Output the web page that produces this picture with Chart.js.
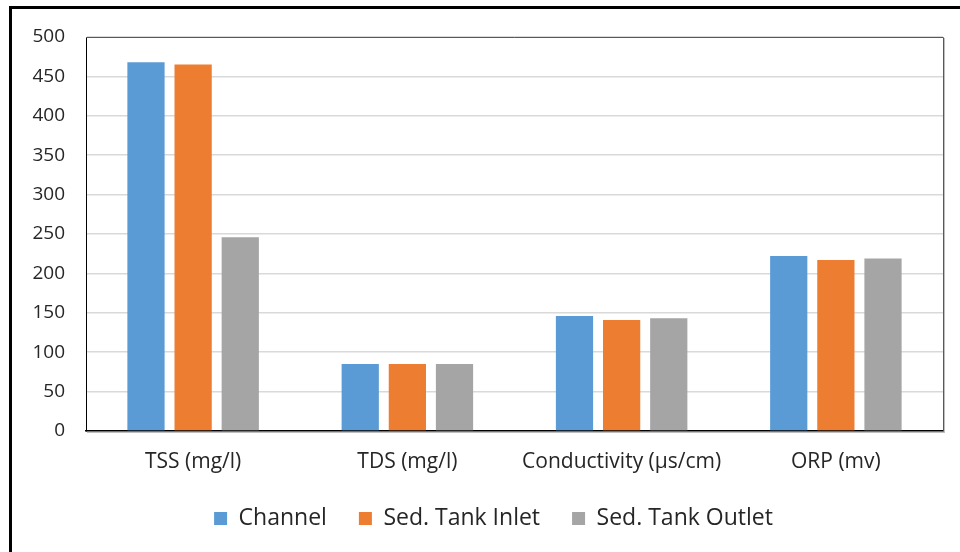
<!DOCTYPE html>
<html>
<head>
<meta charset="utf-8">
<script src="https://cdn.jsdelivr.net/npm/chart.js@4"></script>
<style>
  html, body { margin: 0; padding: 0; background: #fff; overflow: hidden; }
  #wrap { position: relative; width: 960px; height: 552px; }
  #frame { position: absolute; left: 9px; top: 6px; width: 1000px; height: 600px;
           border: 3px solid #000; box-sizing: border-box; pointer-events: none; }
  canvas { position: absolute; left: 0; top: 0; }
</style>
</head>
<body>
<div id="wrap">
  <canvas id="chart" width="960" height="552"></canvas>
  <div id="frame"></div>
</div>
<script>
// Water quality parameters by sampling point
const categories = ['TSS (mg/l)', 'TDS (mg/l)', 'Conductivity (\u00b5s/cm)', 'ORP (mv)'];
const channel = [468, 85, 146, 222];
const sedTankInlet = [465, 85, 141, 217];
const sedTankOutlet = [246, 85, 143, 219];
const yTicks = [0, 50, 100, 150, 200, 250, 300, 350, 400, 450, 500];

const FONT = '"Open Sans", Lato, sans-serif';
const TEXT = '#262626';

// Grey frame round the plot area (top and right edges; the axes draw left and bottom)
const plotFrame = {
  id: 'plotFrame',
  afterDatasetsDraw(chart) {
    const { ctx, chartArea: a } = chart;
    ctx.save();
    ctx.strokeStyle = '#595959';
    ctx.lineWidth = 1;
    ctx.beginPath();
    ctx.moveTo(a.left, a.top + 0.5);
    ctx.lineTo(a.right + 0.5, a.top + 0.5);
    ctx.lineTo(a.right + 0.5, a.bottom);
    ctx.stroke();
    ctx.strokeStyle = 'rgba(0,0,0,0.25)';
    ctx.beginPath();
    ctx.moveTo(a.right + 1.5, a.top + 1);
    ctx.lineTo(a.right + 1.5, a.bottom + 1.5);
    ctx.lineTo(a.left + 1, a.bottom + 1.5);
    ctx.stroke();
    ctx.restore();
  }
};

// Centre the legend row under the span from the value labels to the plot's right edge
const legendShift = {
  id: 'legendShift',
  afterLayout(chart) {
    if (chart.legend) chart.legend.left += 44;
  }
};

new Chart(document.getElementById('chart'), {
  type: 'bar',
  data: {
    labels: categories,
    datasets: [
      { label: 'Channel', data: channel, backgroundColor: '#5B9BD5' },
      { label: 'Sed. Tank Inlet', data: sedTankInlet, backgroundColor: '#ED7D31' },
      { label: 'Sed. Tank Outlet', data: sedTankOutlet, backgroundColor: '#A5A5A5' }
    ]
  },
  options: {
    responsive: false,
    animation: false,
    devicePixelRatio: 1,
    layout: { padding: { top: 37, right: 17, bottom: 12, left: 0 } },
    datasets: { bar: { categoryPercentage: 0.66, barPercentage: 0.79 } },
    scales: {
      x: {
        grid: { display: false, drawTicks: false },
        border: { display: true, color: '#000', width: 1.5 },
        ticks: { color: TEXT, font: { family: FONT, size: 21 }, padding: 18, maxRotation: 0 },
        afterFit(s) { s.height = 44; }
      },
      y: {
        min: 0, max: 500,
        afterBuildTicks(s) { s.ticks = yTicks.map(v => ({ value: v })); },
        grid: { color: '#D9D9D9', lineWidth: 1.5, drawTicks: false },
        border: { display: true, color: '#000', width: 1 },
        ticks: { color: TEXT, font: { family: FONT, size: 19 }, padding: 21 },
        afterFit(s) { s.width = 86; }
      }
    },
    plugins: {
      legend: {
        position: 'bottom',
        labels: {
          color: TEXT,
          font: { family: FONT, size: 23 },
          boxWidth: 13, boxHeight: 13,
          padding: 32
        }
      },
      tooltip: { enabled: false }
    }
  },
  plugins: [plotFrame, legendShift]
});
</script>
</body>
</html>
